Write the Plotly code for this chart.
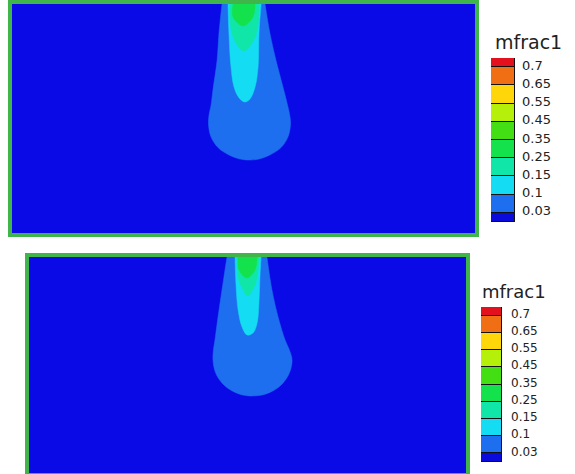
import plotly.graph_objects as go

# ---- colour legend data (bottom -> top) ----
level_labels = ["0.03", "0.1", "0.15", "0.25", "0.35", "0.45", "0.55", "0.65", "0.7"]
level_colors = ["#0A0ADC", "#1E6EF0", "#14DCF2", "#10E6A8", "#14E24C",
                "#44DE14", "#B4F00A", "#FFD60A", "#F06E14", "#E3101E"]

# ---- contour regions (x, depth); level index -> colour ----
# Panel 1
p1_lvl1_x = [109.3, 111.4, 114.0, 116.6, 118.8, 120.1, 120.3, 119.2, 116.2, 111.4, 105.7,
             99.5, 93.7, 89.0, 86.0, 84.9, 85.1, 86.0, 86.8, 88.6, 89.4, 90.7]
p1_lvl1_y = [0, -12.7, -24.5, -34.5, -43.2, -49.3, -52.8, -58.1, -62.7, -65.9, -67.9,
             -67.9, -65.9, -62.7, -58.1, -52.8, -48.5, -44.1, -37.6, -24.5, -12.7, 0]
p1_lvl2_x = [93.3, 93.7, 94.6, 95.9, 98.1, 100.6, 102.8, 105.0, 106.3, 106.7, 107.6]
p1_lvl2_y = [0, -12.7, -27.5, -36.2, -41.0, -42.8, -41.5, -36.2, -27.5, -12.7, 0]
p1_lvl3_x = [94.2, 94.4, 96.5, 100.2, 104.0, 106.2, 106.7]
p1_lvl3_y = [0, -9.5, -16.6, -20.5, -16.6, -9.5, 0]
p1_lvl4_x = [95.5, 95.5, 99.8, 104.1, 105.0]
p1_lvl4_y = [0, -5.7, -9.6, -5.7, 0]

# Panel 2
p2_lvl1_x = [108.9, 111.2, 114.0, 117.2, 119.2, 120.4, 119.3, 116.2, 111.4, 105.4, 99.1,
             93.2, 88.4, 85.3, 84.2, 84.4, 85.1, 86.5, 88.8, 90.6]
p2_lvl1_y = [0, -15.3, -27.8, -38.4, -43.1, -47.7, -53.4, -58.4, -62.1, -64.1, -64.1,
             -62.1, -58.4, -53.4, -47.7, -43.1, -38.4, -27.8, -12.0, 0]
p2_lvl2_x = [94.3, 94.7, 95.7, 97.5, 99.8, 102.5, 104.4, 105.3, 105.7, 106.2]
p2_lvl2_y = [0, -12.0, -24.5, -32.4, -36.1, -35.2, -30.6, -19.9, -9.3, 0]
p2_lvl3_x = [95.2, 95.7, 97.9, 100.2, 102.5, 104.4, 105.3]
p2_lvl3_y = [0, -9.5, -15.0, -18.0, -15.0, -9.5, 0]
p2_lvl4_x = [95.7, 96.1, 99.8, 103.4, 104.4]
p2_lvl4_y = [0, -6.0, -9.7, -6.0, 0]

panels = [
    [(p1_lvl1_x, p1_lvl1_y, 1), (p1_lvl2_x, p1_lvl2_y, 2), (p1_lvl3_x, p1_lvl3_y, 3), (p1_lvl4_x, p1_lvl4_y, 4)],
    [(p2_lvl1_x, p2_lvl1_y, 1), (p2_lvl2_x, p2_lvl2_y, 2), (p2_lvl3_x, p2_lvl3_y, 3), (p2_lvl4_x, p2_lvl4_y, 4)],
]

W, H = 575, 474
fig = go.Figure()

axis_names = [("x", "y"), ("x2", "y2")]
for (xa, ya), regions in zip(axis_names, panels):
    for xs, ys, lvl in regions:
        fig.add_trace(go.Scatter(
            x=xs, y=ys, xaxis=xa, yaxis=ya, mode="lines", fill="toself",
            fillcolor=level_colors[lvl],
            line=dict(color=level_colors[lvl], width=0.5, shape="spline", smoothing=1.0),
            hoverinfo="skip", showlegend=False))

# colour legends as bars
n = len(level_colors)
bounds = [0] + [i + 0.5 for i in range(len(level_labels))] + [len(level_labels)]
bases = bounds[:-1]
heights = [bounds[i + 1] - bounds[i] for i in range(n)]
for xa, ya in [("x3", "y3"), ("x4", "y4")]:
    fig.add_trace(go.Bar(
        x=[0] * n, y=heights, base=bases, xaxis=xa, yaxis=ya, width=1,
        marker=dict(color=level_colors, line=dict(color="#111", width=1)),
        hoverinfo="skip", showlegend=False))

def px_dom_x(a, b):
    return [a / W, b / W]

def px_dom_y(top, bot):
    return [1 - bot / H, 1 - top / H]

green = "#40B64A"
field_ax = dict(showgrid=False, zeroline=False, showticklabels=False, ticks="",
                showline=True, mirror=True, linecolor=green, linewidth=3.5)

fig.update_layout(
    width=W, height=H, margin=dict(l=0, r=0, t=0, b=0),
    paper_bgcolor="white", plot_bgcolor="#0A0AE6",
    barmode="overlay", bargap=0,
    xaxis=dict(domain=px_dom_x(12, 475), range=[0, 200], **field_ax),
    yaxis=dict(domain=px_dom_y(4, 233), range=[-100, 0], **field_ax),
    xaxis2=dict(domain=px_dom_x(29, 466), range=[0, 200], anchor="y2", **field_ax),
    yaxis2=dict(domain=px_dom_y(257, 473), range=[-100, 0], anchor="x2", **field_ax),
    xaxis3=dict(domain=px_dom_x(491, 515), range=[-0.5, 0.5], anchor="y3", visible=False),
    yaxis3=dict(domain=px_dom_y(58, 222), range=[0, 9], anchor="x3", side="right",
                tickvals=bounds[1:-1], ticktext=level_labels, showgrid=False, zeroline=False,
                ticks="", ticklabelstandoff=6, ticklabelshift=-2,
                tickfont=dict(family="DejaVu Sans", size=13, color="#222")),
    xaxis4=dict(domain=px_dom_x(481, 502), range=[-0.5, 0.5], anchor="y4", visible=False),
    yaxis4=dict(domain=px_dom_y(307, 462), range=[0, 9], anchor="x4", side="right",
                tickvals=bounds[1:-1], ticktext=level_labels, showgrid=False, zeroline=False,
                ticks="", ticklabelstandoff=8, ticklabelshift=-2,
                tickfont=dict(family="DejaVu Sans", size=12, color="#222")),
    annotations=[
        dict(text="mfrac1", xref="paper", yref="paper", x=528 / W, y=1 - 42 / H,
             xanchor="center", yanchor="middle", showarrow=False,
             font=dict(family="DejaVu Sans", size=19, color="#222")),
        dict(text="mfrac1", xref="paper", yref="paper", x=513.5 / W, y=1 - 291 / H,
             xanchor="center", yanchor="middle", showarrow=False,
             font=dict(family="DejaVu Sans", size=18, color="#222")),
    ],
)

fig.write_html("out.html")
